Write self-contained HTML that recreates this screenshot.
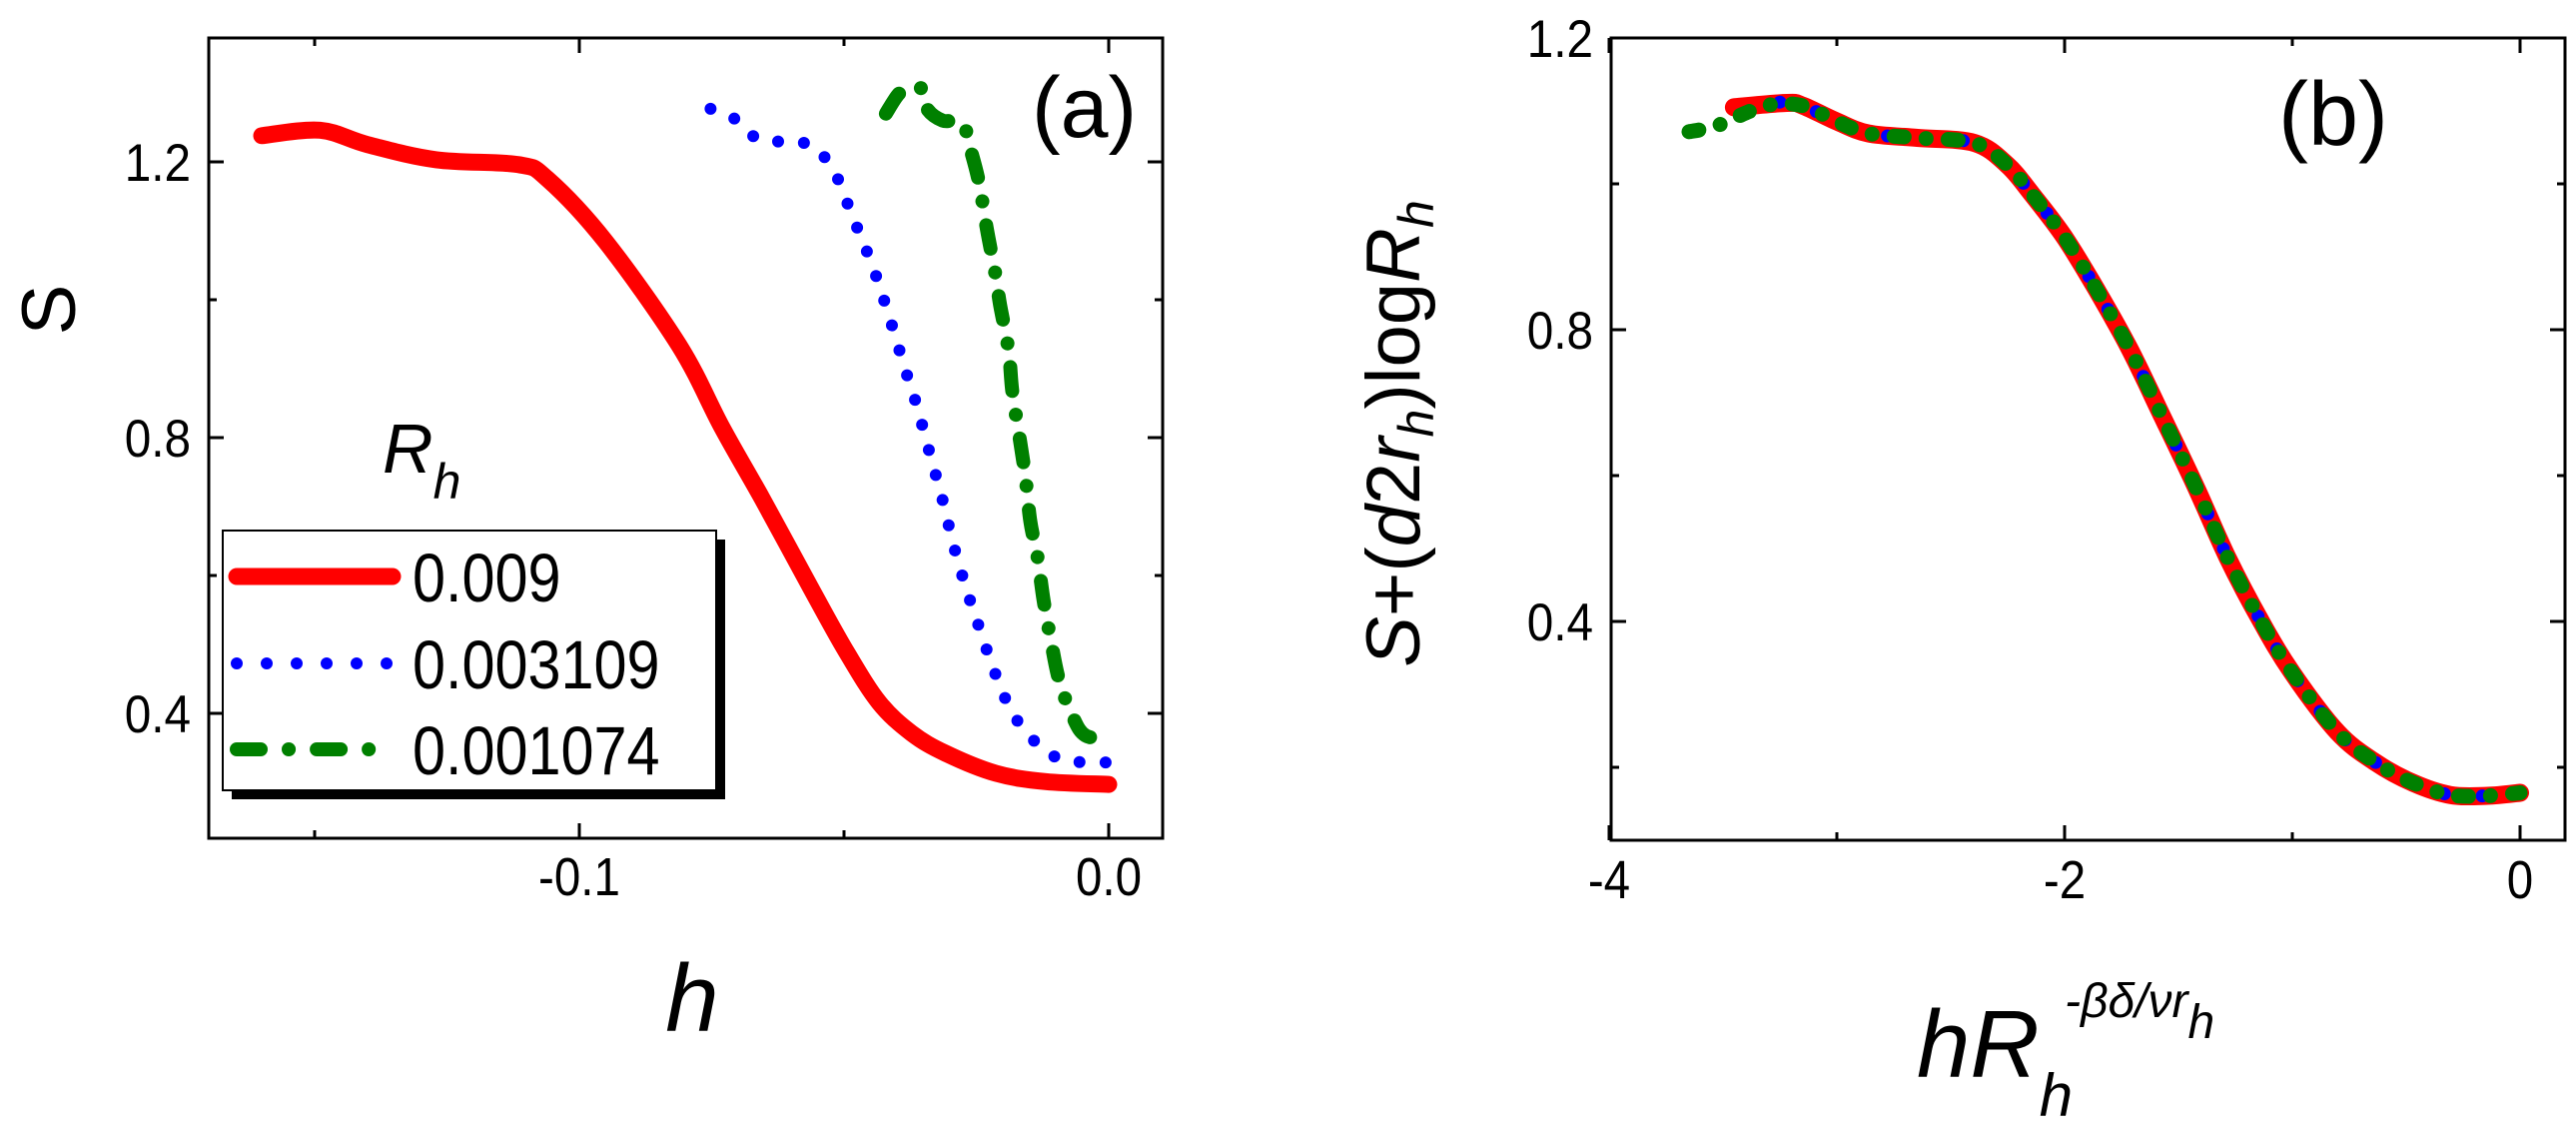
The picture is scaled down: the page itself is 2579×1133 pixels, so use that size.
<!DOCTYPE html>
<html><head><meta charset="utf-8"><style>
html,body{margin:0;padding:0;background:#fff;}
svg{display:block;font-family:"Liberation Sans",Arial,sans-serif;}
</style></head><body>
<svg id="fig" width="2579" height="1133" viewBox="0 0 2579 1133" xmlns="http://www.w3.org/2000/svg">
<g id="pa"></g>
<g id="pb"></g>
</svg>
<script>
// ---------- Panel (a) data ----------
const aYTicks = [0.4, 0.8, 1.2];
const aYMinor = [0.6, 1.0];
const aXTicks = [-0.1, 0.0];
const aXMinor = [-0.15, -0.05];
const aXTickLabels = ["-0.1", "0.0"];
const aYTickLabels = ["0.4", "0.8", "1.2"];
const redAX = [-0.160,-0.149,-0.140,-0.127,-0.1115,-0.106,-0.095,-0.0811,-0.0730,-0.0655,-0.0560,-0.0496,-0.0434,-0.0372,-0.0308,-0.0213,-0.0119,0.0];
const redAY = [1.238,1.246,1.225,1.203,1.196,1.175,1.084,0.933,0.814,0.712,0.578,0.490,0.416,0.371,0.342,0.313,0.301,0.297];
const blueAX = [-0.0752,-0.0714,-0.0686,-0.0649,-0.0599,-0.0555,-0.0530,-0.0509,-0.0484,-0.0467,-0.0437,-0.0410,-0.0384,-0.0362,-0.0338,-0.0314,-0.0292,-0.0267,-0.0243,-0.0214,-0.0179,-0.0129,-0.0094,-0.0050,0.0003];
const blueAY = [1.277,1.267,1.245,1.230,1.230,1.222,1.199,1.171,1.120,1.090,1.029,0.964,0.898,0.845,0.777,0.710,0.641,0.576,0.521,0.457,0.397,0.351,0.335,0.329,0.329];
const greenAX = [-0.0421,-0.0396,-0.0371,-0.0349,-0.0343,-0.0314,-0.0277,-0.0261,-0.0245,-0.0230,-0.0214,-0.0205,-0.0189,-0.0182,-0.0167,-0.0157,-0.0148,-0.0135,-0.0123,-0.0110,-0.0094,-0.0069,-0.0044,0.0003];
const greenAY = [1.270,1.299,1.309,1.303,1.277,1.260,1.257,1.218,1.170,1.102,1.037,0.992,0.926,0.867,0.793,0.741,0.678,0.629,0.564,0.509,0.449,0.397,0.368,0.363];
const legendLabels = ["0.009", "0.003109", "0.001074"];

// ---------- Panel (b) data ----------
const bYTicks = [0.4, 0.8, 1.2];
const bYMinor = [0.2, 0.6, 1.0];
const bXTicks = [-4, -2, 0];
const bXMinor = [-3, -1];
const bXTickLabels = ["-4", "-2", "0"];
const bYTickLabels = ["0.4", "0.8", "1.2"];
const redBX = [-3.452,-3.219,-3.148,-3.004,-2.861,-2.646,-2.395,-2.252,-2.144,-2.001,-1.858,-1.715,-1.571,-1.429,-1.285,-1.141,-0.999,-0.801,-0.636,-0.472,-0.306,-0.142,0.0];
const redBY = [1.105,1.111,1.107,1.086,1.069,1.063,1.056,1.026,0.986,0.927,0.854,0.774,0.681,0.588,0.488,0.402,0.329,0.248,0.207,0.179,0.162,0.161,0.165];
const blueBX = [-3.25,-3.148,-3.004,-2.861,-2.646,-2.395,-2.252,-2.144,-2.001,-1.858,-1.715,-1.571,-1.429,-1.285,-1.141,-0.999,-0.801,-0.636,-0.472,-0.306,-0.142,0.0];
const blueBY = [1.112,1.107,1.086,1.069,1.063,1.056,1.026,0.986,0.927,0.854,0.774,0.681,0.588,0.488,0.402,0.329,0.248,0.207,0.179,0.162,0.161,0.165];
const greenBX = [-3.649,-3.541,-3.46,-3.30,-3.148,-3.004,-2.861,-2.646,-2.395,-2.252,-2.144,-2.001,-1.858,-1.715,-1.571,-1.429,-1.285,-1.141,-0.999,-0.801,-0.636,-0.472,-0.306,-0.142,0.0];
const greenBY = [1.0715,1.078,1.089,1.108,1.107,1.086,1.069,1.063,1.056,1.026,0.986,0.927,0.854,0.774,0.681,0.588,0.488,0.402,0.329,0.248,0.207,0.179,0.162,0.161,0.165];

const NS = "http://www.w3.org/2000/svg";
function mk(parent, tag, attrs, text){
  const e = document.createElementNS(NS, tag);
  for (const k in attrs) e.setAttribute(k, attrs[k]);
  if (text !== undefined) e.textContent = text;
  parent.appendChild(e);
  return e;
}
function scale(d0,d1,r0,r1){ return v => r0 + (v-d0)/(d1-d0)*(r1-r0); }
// smooth Catmull-Rom path through data points
function pathD(xs, ys, sx, sy){
  const P = xs.map((x,i)=>[sx(x), sy(ys[i])]);
  let d = "M"+P[0][0].toFixed(1)+","+P[0][1].toFixed(1);
  for (let i=0;i<P.length-1;i++){
    const p0=P[Math.max(0,i-1)], p1=P[i], p2=P[i+1], p3=P[Math.min(P.length-1,i+2)];
    const c1=[p1[0]+(p2[0]-p0[0])/6, p1[1]+(p2[1]-p0[1])/6];
    const c2=[p2[0]-(p3[0]-p1[0])/6, p2[1]-(p3[1]-p1[1])/6];
    d += " C"+c1[0].toFixed(1)+","+c1[1].toFixed(1)+" "+c2[0].toFixed(1)+","+c2[1].toFixed(1)+" "+p2[0].toFixed(1)+","+p2[1].toFixed(1);
  }
  return d;
}

function axes(g, L, T, R, B, sx, sy, xT, xM, xL, yT, yM, yL, xLabY){
  const frame = mk(g,"rect",{x:L,y:T,width:R-L,height:B-T,fill:"none",stroke:"#000","stroke-width":3});
  
  
  xT.forEach((v,i)=>{
    const x = sx(v);
    const t1 = mk(g,"line",{x1:x,y1:B,x2:x,y2:B-15,stroke:"#000","stroke-width":3});
    
    
    const t2 = mk(g,"line",{x1:x,y1:T,x2:x,y2:T+15,stroke:"#000","stroke-width":3});
    
    
    const lb = mk(g,"text",{x:x,y:xLabY,"text-anchor":"middle","font-size":54,transform:"translate("+x+","+xLabY+") scale(0.88,1) translate("+(-x)+","+(-xLabY)+")"},xL[i]);
    
    
  });
  xM.forEach(v=>{
    const x = sx(v);
    const t1 = mk(g,"line",{x1:x,y1:B,x2:x,y2:B-8,stroke:"#000","stroke-width":3});
    
    
    const t2 = mk(g,"line",{x1:x,y1:T,x2:x,y2:T+8,stroke:"#000","stroke-width":3});
    
    
  });
  yT.forEach((v,i)=>{
    const y = sy(v);
    const t1 = mk(g,"line",{x1:L,y1:y,x2:L+15,y2:y,stroke:"#000","stroke-width":3});
    
    
    const t2 = mk(g,"line",{x1:R,y1:y,x2:R-15,y2:y,stroke:"#000","stroke-width":3});
    
    
    const lx=L-18, ly=y+19;
    const lb = mk(g,"text",{x:lx,y:ly,"text-anchor":"end","font-size":53,transform:"translate("+lx+","+ly+") scale(0.9,1) translate("+(-lx)+","+(-ly)+")"},yL[i]);
    
    
  });
  yM.forEach(v=>{
    const y = sy(v);
    const t1 = mk(g,"line",{x1:L,y1:y,x2:L+8,y2:y,stroke:"#000","stroke-width":3});
    
    
    const t2 = mk(g,"line",{x1:R,y1:y,x2:R-8,y2:y,stroke:"#000","stroke-width":3});
    
    
  });
}
const RED = {stroke:"#ff0000","stroke-width":17,fill:"none","stroke-linecap":"round","stroke-linejoin":"round"};
const BLUE = {stroke:"#0000ff","stroke-width":12,fill:"none","stroke-linecap":"round","stroke-dasharray":"0 26"};
const GREEN = {stroke:"#008000","stroke-width":14,fill:"none","stroke-linecap":"round","stroke-dasharray":"24 24 0.1 24"};

// ---------- draw panel (a) ----------
(function(){
  const g = document.getElementById("pa");
  const L=209,T=38,R=1164,B=839;
  const sx = scale(-0.1,0.0,580,1110);
  const sy = scale(0.4,1.2,714,162);
  axes(g,L,T,R,B,sx,sy,aXTicks,aXMinor,aXTickLabels,aYTicks,aYMinor,aYTickLabels,896);
  const r = mk(g,"path",Object.assign({d:pathD(redAX,redAY,sx,sy)},RED));
  
  
  const b = mk(g,"path",Object.assign({d:pathD(blueAX,blueAY,sx,sy)},BLUE));
  
  
  const gr = mk(g,"path",Object.assign({d:pathD(greenAX,greenAY,sx,sy)},GREEN));
  
  
  // legend
  const lg = mk(g,"g",{});
  
  
  const sh = mk(lg,"rect",{x:232,y:540,width:494,height:260,fill:"#000"});
  
  
  const bx = mk(lg,"rect",{x:223,y:531,width:494,height:260,fill:"#fff",stroke:"#000","stroke-width":2});
  
  
  const ys=[577,664,750], styles=[RED,BLUE,GREEN];
  ys.forEach((y,i)=>{
    const st = Object.assign({},styles[i]);
    if(i===1) st["stroke-dasharray"]="0 30";
    if(i===2) st["stroke-dasharray"]="24 28 0.1 28";
    const ln = mk(lg,"line",Object.assign({x1:237,y1:y,x2:393,y2:y},st));
    
    
    const tx = mk(lg,"text",{x:413,y:y+25,"font-size":69,transform:"translate(413,"+(y+25)+") scale(0.86,1) translate(-413,"+(-(y+25))+")"},legendLabels[i]);
    
    
  });
})();

// ---------- draw panel (b) ----------
(function(){
  const g = document.getElementById("pb");
  const L=1613,T=38,R=2568,B=841;
  const sx = scale(-2,0,2067,2523);
  const sy = scale(0.4,0.8,622,330);
  axes(g,L,T,R,B,sx,sy,bXTicks,bXMinor,bXTickLabels,bYTicks,bYMinor,bYTickLabels,899);
  const r = mk(g,"path",Object.assign({d:pathD(redBX,redBY,sx,sy)},RED,{"stroke-width":18}));
  
  
  const b = mk(g,"path",Object.assign({d:pathD(blueBX,blueBY,sx,sy)},BLUE,{"stroke-dasharray":"0 38","stroke-width":13}));
  
  
  const gr = mk(g,"path",Object.assign({d:pathD(greenBX,greenBY,sx,sy)},GREEN,{"stroke-dasharray":"10 22 0.1 22","stroke-width":15}));
  
  
})();
</script>
<svg style="position:absolute;left:0;top:0" width="2579" height="1133" font-family="Liberation Sans, Arial, sans-serif">
  <text x="1033" y="137" font-size="86">(a)</text>
  <text x="2281" y="145" font-size="90">(b)</text>
  <text x="383" y="473" font-size="70" font-style="italic">R<tspan font-size="50" dy="26">h</tspan></text>
  <text transform="translate(75,310) rotate(-90)" text-anchor="middle" font-size="76">S</text>
  <text x="693" y="1032" text-anchor="middle" font-size="96" font-style="italic">h</text>
  <text transform="translate(1421,434) rotate(-90)" text-anchor="middle" font-size="76"><tspan font-style="italic">S</tspan>+(<tspan font-style="italic">d</tspan>2<tspan font-style="italic">r</tspan><tspan font-style="italic" font-size="50" dy="14">h</tspan><tspan dy="-14">)log</tspan><tspan font-style="italic">R</tspan><tspan font-style="italic" font-size="50" dy="14">h</tspan></text>
  <text x="1919" y="1078" font-size="96" font-style="italic">hR<tspan font-size="60" dy="39">h</tspan><tspan font-size="48" dx="-8" dy="-99">-βδ/νr</tspan><tspan font-size="48" dy="21">h</tspan></text>
</svg>
</body></html>
